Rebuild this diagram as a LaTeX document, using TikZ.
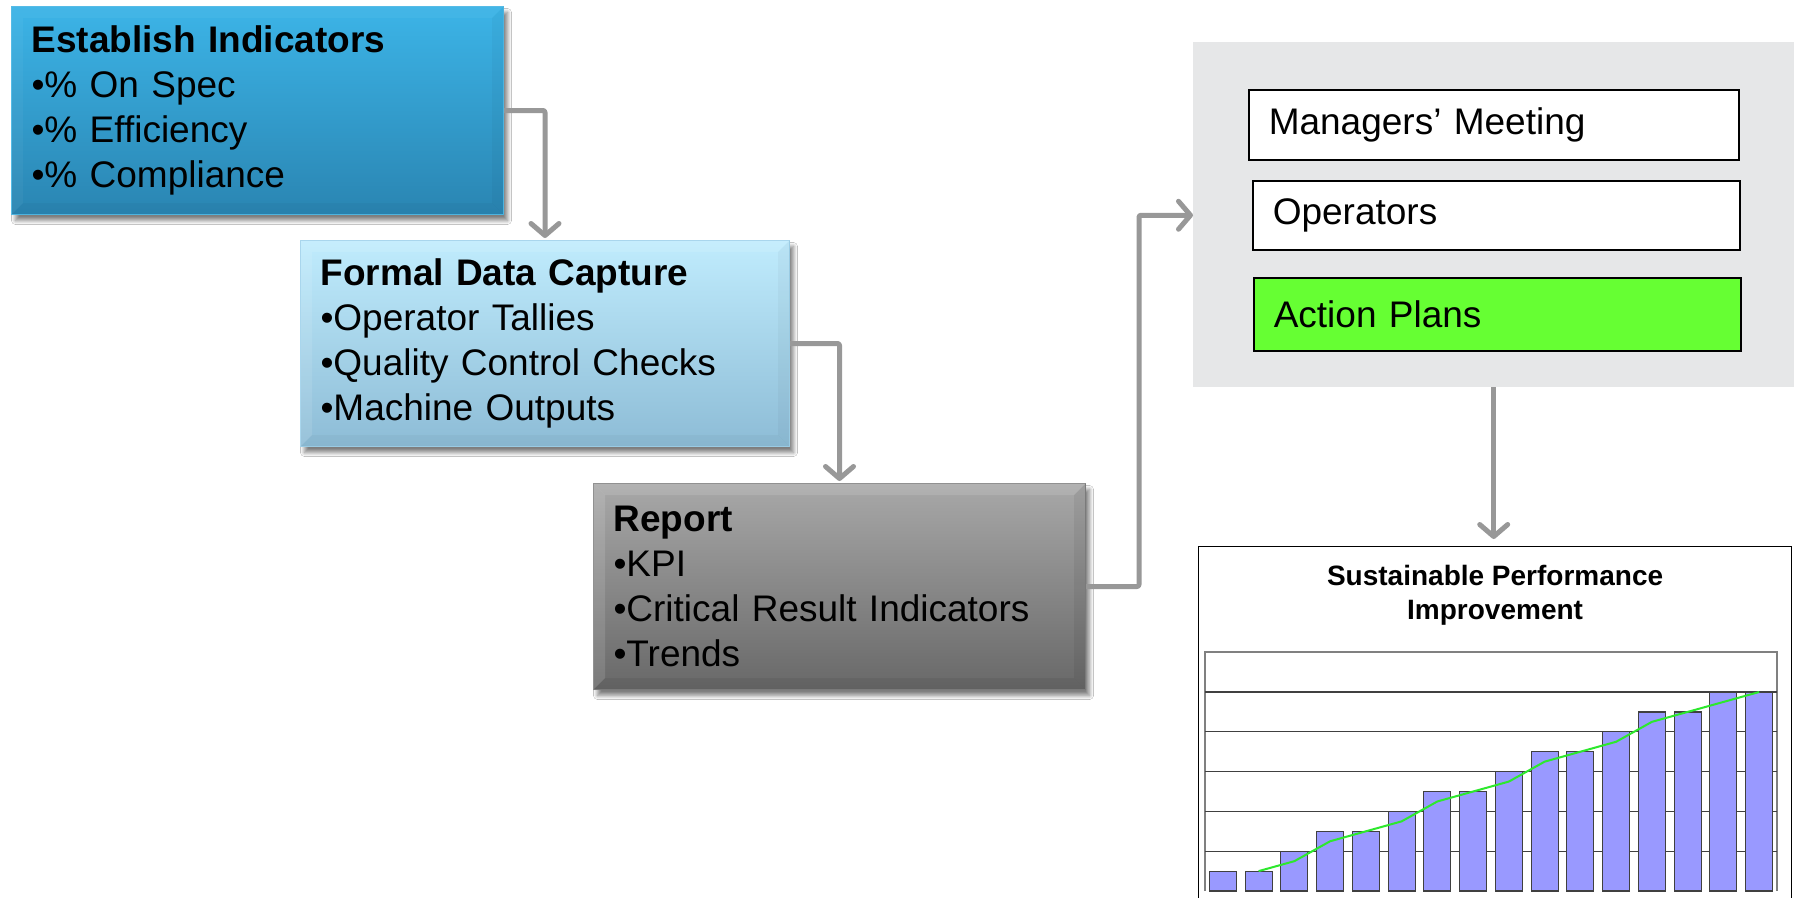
\documentclass[tikz,border=0pt]{standalone}
\usepackage{fontspec}
\setmainfont{Liberation Sans}
\usetikzlibrary{arrows.meta,shadows.blur}

\definecolor{indTop}{RGB}{60,180,231}
\definecolor{indBot}{RGB}{42,133,178}
\definecolor{indLine}{RGB}{80,185,230}
\definecolor{capTop}{RGB}{192,236,253}
\definecolor{capBot}{RGB}{141,188,214}
\definecolor{capLine}{RGB}{160,210,235}
\definecolor{repTop}{RGB}{168,168,168}
\definecolor{repBot}{RGB}{104,104,104}
\definecolor{repLine}{RGB}{130,130,130}
\definecolor{arrowGray}{RGB}{152,152,152}
\definecolor{panelGray}{RGB}{230,231,232}
\definecolor{actGreen}{RGB}{102,255,51}
\definecolor{barBlue}{RGB}{153,153,255}
\definecolor{maGreen}{RGB}{45,232,45}

\tikzset{
  flowbox/.style={anchor=north west, align=left, inner xsep=20pt, inner ysep=0pt,
    font=\fontsize{37}{45}\selectfont, line width=1pt,
    blur shadow={shadow xshift=4pt, shadow yshift=-6pt, shadow blur radius=4pt,
      shadow blur steps=8, shadow opacity=50}},
  itembox/.style={draw=black, line width=1.5pt, anchor=north west, align=left,
    inner xsep=20pt, font=\fontsize{37}{45}\selectfont},
  arr/.style={draw=arrowGray, line width=5pt, rounded corners=2pt, line join=round,
    -{Straight Barb[length=12pt, width=28pt, round]}},
  bar/.style={fill=barBlue, draw=black!75, line width=1.2pt},
  gridln/.style={draw=black!75, line width=1.2pt},
  maline/.style={draw=maGreen, line width=2pt},
}

\begin{document}
\begin{tikzpicture}[x=1pt, y=-1pt]
  \useasboundingbox (0,0) rectangle (1794,897);
  \fill[white] (0,0) rectangle (1794,897);

  % process boxes
  \node[flowbox, draw=indLine, top color=indTop, bottom color=indBot,
        text width=452pt, minimum height=208pt] (ind) at (11,6)
    {\textbf{Establish Indicators}\\•\% On Spec\\•\% Efficiency\\•\% Compliance};
  \node[flowbox, draw=capLine, top color=capTop, bottom color=capBot,
        text width=449pt, minimum height=206pt] (cap) at (300,240)
    {\textbf{Formal Data Capture}\\•Operator Tallies\\•Quality Control Checks\\•Machine Outputs};
  \node[flowbox, draw=repLine, top color=repTop, bottom color=repBot,
        text width=452pt, minimum height=206pt] (rep) at (593,483)
    {\textbf{Report}\\•KPI\\•Critical Result Indicators\\•Trends};

  % soft bevel on the process boxes
  \foreach \n/\lt/\dk in {ind/0.04/0.03, cap/0.10/0.03, rep/0.12/0.06} {
    \fill[white, opacity=\lt] (\n.north west) -- (\n.north east)
      -- ([xshift=-12pt, yshift=-12pt]\n.north east)
      -- ([xshift=12pt, yshift=-12pt]\n.north west) -- cycle;
    \fill[white, opacity=\lt] (\n.north west) -- ([xshift=12pt, yshift=-12pt]\n.north west)
      -- ([xshift=12pt, yshift=12pt]\n.south west) -- (\n.south west) -- cycle;
    \fill[black, opacity=\dk] (\n.south west) -- (\n.south east)
      -- ([xshift=-12pt, yshift=12pt]\n.south east)
      -- ([xshift=12pt, yshift=12pt]\n.south west) -- cycle;
    \fill[black, opacity=\dk] (\n.north east) -- ([xshift=-12pt, yshift=-12pt]\n.north east)
      -- ([xshift=-12pt, yshift=12pt]\n.south east) -- (\n.south east) -- cycle;
  }

  % review panel
  \node[fill=panelGray, anchor=north west, minimum width=601pt, minimum height=345pt,
        inner sep=0pt] (panel) at (1193,42) {};
  \node[itembox, fill=white, text width=450pt, minimum height=70pt] (mgr) at (1248,89)
    {Managers’ Meeting};
  \node[itembox, fill=white, text width=447pt, minimum height=69pt] (ops) at (1252,180)
    {Operators};
  \node[itembox, fill=actGreen, text width=447pt, minimum height=73pt] (act) at (1253,277)
    {Action Plans};

  % performance chart
  \node[draw=black, line width=1.2pt, fill=white, anchor=north west,
        minimum width=593pt, minimum height=370pt, inner sep=0pt] (chart) at (1198,546) {};
  \node[font=\bfseries\fontsize{28}{34}\selectfont, align=center] (title)
    at ([yshift=-49pt]chart.north) {Sustainable Performance\\Improvement};
  \draw[draw=black!50, line width=1.2pt] (1205,891) -- (1205,652) -- (1777,652) -- (1777,891);
  \foreach \k in {1,...,5}
    \draw[gridln] (1205,{891-\k*39.8}) -- (1777,{891-\k*39.8});
  \foreach \v [count=\i] in {0.5,0.5,1,1.5,1.5,2,2.5,2.5,3,3.5,3.5,4,4.5,4.5,5,5}
    \draw[bar] ({1205+(\i-0.5)*35.75-13.5},891) rectangle ++(27,{-\v*39.8});
  \draw[maline] ({1205+1.5*35.75},{891-0.5*39.8})
    \foreach \m [count=\j from 3] in {0.75,1.25,1.5,1.75,2.25,2.5,2.75,3.25,3.5,3.75,4.25,4.5,4.75,5}
      { -- ({1205+(\j-0.5)*35.75},{891-\m*39.8}) };

  % connectors
  \draw[arr, shorten >=2pt] (ind.east) -| (cap.north);
  \draw[arr, shorten >=2pt] (cap.east) -| (rep.north);
  \draw[arr] (rep.east) -- ++(53,0) |- (ops.west -| panel.west);
  \draw[arr, shorten >=7pt] (panel.south) -- (panel.south |- chart.north);
\end{tikzpicture}
\end{document}
